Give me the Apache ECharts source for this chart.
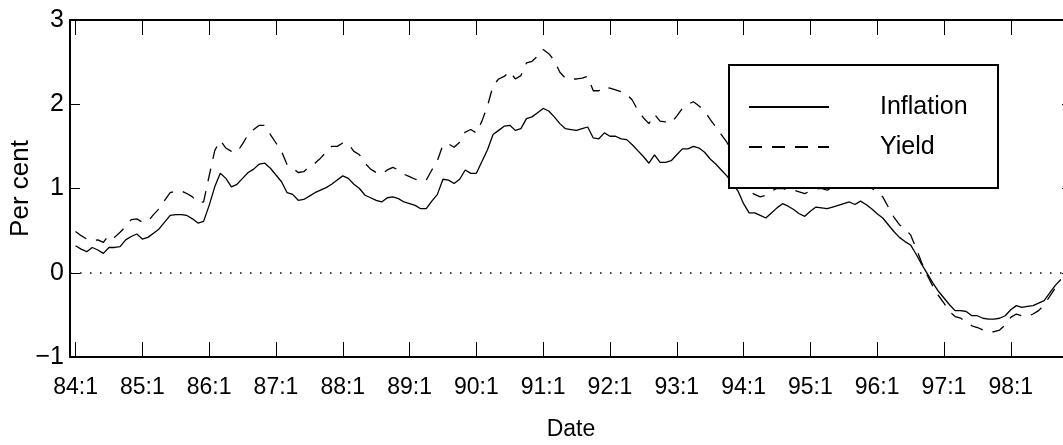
<!DOCTYPE html>
<html>
<head>
<meta charset="utf-8">
<script src="https://cdn.jsdelivr.net/npm/echarts@6/dist/echarts.min.js"></script>
<style>
html,body{margin:0;padding:0;background:#fff;}
#chart{width:1063px;height:445px;}
</style>
</head>
<body>
<div id="chart"></div>
<script>
// Month offsets from 84:1 (0 = Jan 1984), one per observation
const months = Array.from({length: 178}, (_, i) => i);

const inflation = [
 0.32,0.28,0.25,0.30,0.27,0.23,0.30,0.30,0.31,0.39,0.43,0.46,
 0.40,0.42,0.47,0.52,0.60,0.68,0.69,0.69,0.68,0.64,0.59,0.61,
 0.80,1.02,1.18,1.12,1.02,1.05,1.12,1.19,1.23,1.29,1.30,1.24,
 1.16,1.08,0.95,0.93,0.86,0.87,0.91,0.95,0.98,1.01,1.05,1.10,
 1.15,1.12,1.05,1.00,0.92,0.89,0.86,0.84,0.89,0.90,0.88,0.84,
 0.82,0.80,0.76,0.76,0.85,0.93,1.11,1.10,1.06,1.11,1.22,1.18,
 1.18,1.32,1.46,1.64,1.69,1.74,1.75,1.69,1.71,1.83,1.85,1.90,
 1.95,1.92,1.85,1.77,1.71,1.70,1.69,1.71,1.73,1.60,1.59,1.66,
 1.62,1.62,1.59,1.58,1.52,1.45,1.38,1.30,1.40,1.31,1.31,1.33,
 1.40,1.47,1.47,1.50,1.48,1.43,1.35,1.29,1.22,1.15,1.06,0.97,
 0.82,0.71,0.71,0.68,0.65,0.71,0.77,0.82,0.79,0.75,0.70,0.67,
 0.73,0.78,0.77,0.76,0.78,0.80,0.82,0.84,0.81,0.85,0.81,0.76,
 0.70,0.65,0.57,0.49,0.42,0.37,0.33,0.22,0.10,-0.01,-0.12,-0.22,
 -0.30,-0.38,-0.45,-0.45,-0.46,-0.51,-0.51,-0.54,-0.55,-0.55,-0.54,-0.51,
 -0.44,-0.39,-0.41,-0.40,-0.39,-0.36,-0.33,-0.24,-0.15,-0.08
];

const yieldVals = [
 0.49,0.44,0.40,0.38,0.39,0.36,0.45,0.42,0.48,0.55,0.63,0.64,
 0.60,0.61,0.69,0.76,0.86,0.95,0.97,0.97,0.94,0.90,0.83,0.84,
 1.15,1.45,1.57,1.48,1.44,1.43,1.53,1.64,1.70,1.75,1.75,1.64,
 1.54,1.44,1.28,1.24,1.19,1.20,1.26,1.30,1.36,1.43,1.50,1.50,
 1.54,1.53,1.44,1.40,1.30,1.23,1.19,1.17,1.22,1.25,1.22,1.17,
 1.14,1.11,1.09,1.10,1.22,1.33,1.52,1.53,1.49,1.55,1.67,1.70,
 1.66,1.80,1.98,2.22,2.30,2.33,2.39,2.30,2.34,2.49,2.51,2.57,
 2.65,2.60,2.52,2.38,2.31,2.30,2.30,2.31,2.33,2.16,2.16,2.21,
 2.19,2.17,2.15,2.12,2.05,1.93,1.84,1.77,1.88,1.80,1.79,1.78,
 1.86,1.95,2.00,2.03,1.98,1.92,1.82,1.73,1.64,1.55,1.40,1.22,
 1.05,0.96,0.93,0.90,0.92,0.97,1.00,1.00,0.98,0.98,0.96,0.94,
 0.97,1.00,1.00,0.98,1.00,1.02,1.03,1.04,1.02,1.03,1.02,1.00,
 0.97,0.90,0.78,0.66,0.57,0.52,0.45,0.29,0.12,-0.03,-0.16,-0.27,
 -0.36,-0.46,-0.52,-0.54,-0.58,-0.63,-0.65,-0.68,-0.70,-0.70,-0.68,-0.62,
 -0.53,-0.49,-0.51,-0.52,-0.49,-0.45,-0.38,-0.28,-0.18,-0.10
];

const tickLabels = ['84:1','85:1','86:1','87:1','88:1','89:1','90:1','91:1',
                    '92:1','93:1','94:1','95:1','96:1','97:1','98:1'];
const yTicks = [-1, 0, 1, 2, 3];

const tickMonths = tickLabels.map(l => (parseInt(l.split(':')[0], 10) - 84) * 12 + parseInt(l.split(':')[1], 10) - 1);
const labelOf = {};
tickMonths.forEach((m, i) => { labelOf[m] = tickLabels[i]; });

const font = "'Liberation Sans Narrow', 'Liberation Sans', Arial, sans-serif";

const chart = echarts.init(document.getElementById('chart'), null, {renderer: 'canvas'});
const axisLine = {show: true, onZero: false, lineStyle: {color: '#000', width: 2}};
chart.setOption({
  animation: false,
  backgroundColor: '#fff',
  grid: {left: 70, top: 20, width: 1002, height: 337, containLabel: false, outerBoundsMode: 'none'},
  legend: {
    orient: 'vertical',
    left: 729, top: 65,
    itemWidth: 80, itemHeight: 30, itemGap: 10,
    padding: [27, 8, 26, 19],
    borderColor: '#000', borderWidth: 2, backgroundColor: '#fff',
    itemStyle: {opacity: 0},
    textStyle: {fontFamily: font, fontSize: 25, color: '#000', lineHeight: 30,
                padding: [0, 0, 0, 46], width: 110},
    data: ['Inflation', 'Yield']
  },
  xAxis: [{
    type: 'value', min: -1, max: 179, position: 'bottom',
    name: 'Date', nameLocation: 'middle', nameGap: 61,
    nameTextStyle: {fontFamily: font, fontSize: 23, color: '#000'},
    axisLine: axisLine,
    splitLine: {show: false},
    axisTick: {show: true, inside: true, length: 15, customValues: tickMonths, lineStyle: {color: '#000', width: 1}},
    axisLabel: {show: true, customValues: tickMonths, formatter: v => labelOf[v] || '',
                fontFamily: font, fontSize: 23, color: '#000', margin: 19}
  }, {
    type: 'value', min: -1, max: 179, position: 'top',
    axisLine: axisLine, splitLine: {show: false},
    axisTick: {show: true, inside: true, length: 15, customValues: tickMonths, lineStyle: {color: '#000', width: 1}},
    axisLabel: {show: false}
  }],
  yAxis: [{
    type: 'value', min: -1, max: 3, interval: 1, position: 'left',
    name: 'Per cent', nameLocation: 'middle', nameGap: 36, nameRotate: 90,
    nameMoveOverlap: false,
    nameTextStyle: {fontFamily: "'Liberation Sans', Arial, sans-serif", fontSize: 26, color: '#000'},
    axisLine: axisLine, splitLine: {show: false},
    axisTick: {show: true, inside: true, length: 10, lineStyle: {color: '#000', width: 1}},
    axisLabel: {fontFamily: font, fontSize: 25, color: '#000', margin: 6,
                formatter: v => (yTicks.indexOf(v) >= 0 ? (v < 0 ? '\u2212' + Math.abs(v) : String(v)) : '')}
  }, {
    type: 'value', min: -1, max: 3, interval: 1, position: 'right',
    axisLine: axisLine, splitLine: {show: false},
    axisTick: {show: true, inside: true, length: 10, lineStyle: {color: '#000', width: 1}},
    axisLabel: {show: false}
  }],
  series: [{
    name: 'Inflation', type: 'line', xAxisIndex: 0, yAxisIndex: 0,
    data: months.map((m, i) => [m, inflation[i]]),
    symbol: 'none', showSymbol: false,
    lineStyle: {color: '#000', width: 1.3, type: 'solid'},
    itemStyle: {color: '#000'},
    markLine: {
      silent: true, symbol: ['none', 'none'], label: {show: false},
      lineStyle: {color: '#000', width: 1.5, type: [1.5, 8.5]},
      data: [{yAxis: 0}]
    },
    z: 3
  }, {
    name: 'Yield', type: 'line', xAxisIndex: 0, yAxisIndex: 0,
    data: months.map((m, i) => [m, yieldVals[i]]),
    symbol: 'none', showSymbol: false,
    lineStyle: {color: '#000', width: 1.3, type: [13, 10]},
    itemStyle: {color: '#000'},
    z: 3
  }]
});
</script>
</body>
</html>
